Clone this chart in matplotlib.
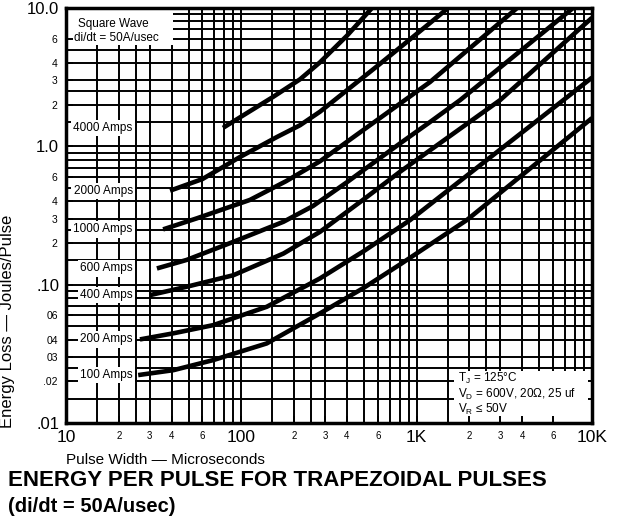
import matplotlib
matplotlib.use("Agg")
import matplotlib.pyplot as plt
from matplotlib.patches import Rectangle
from matplotlib.ticker import FixedLocator, FixedFormatter

plt.rcParams['font.family'] = ['Liberation Sans', 'DejaVu Sans']

# curves: pulse width (usec) vs energy (J/pulse)
labels = ["4000 Amps", "2000 Amps", "1000 Amps", "600 Amps", "400 Amps", "200 Amps", "100 Amps"]

x_4000 = [78.6, 152, 216, 281, 400, 556]
y_4000 = [1.36, 2.28, 3.05, 4.05, 6.3, 10.0]
x_2000 = [39.2, 60, 98.7, 160, 216, 281, 600, 1193, 1511]
y_2000 = [0.478, 0.58, 0.84, 1.17, 1.42, 1.78, 3.83, 7.8, 10.0]
x_1000 = [35.8, 55.9, 112, 180, 281, 450, 1193, 3740]
y_1000 = [0.251, 0.302, 0.41, 0.56, 0.78, 1.2, 2.92, 10.0]
x_600 = [33.0, 48.8, 90, 174, 256, 400, 804, 1193, 1770, 7800]
y_600 = [0.131, 0.151, 0.204, 0.285, 0.37, 0.55, 1.05, 1.5, 2.16, 10.0]
x_400 = [30.2, 48.8, 90, 174, 281, 494, 804, 2993, 10000]
y_400 = [0.0841, 0.0966, 0.117, 0.168, 0.241, 0.41, 0.655, 2.16, 8.5]
x_200 = [26.4, 41, 69.2, 139.6, 281, 500, 917, 6870, 10000]
y_200 = [0.0402, 0.0445, 0.051, 0.0692, 0.111, 0.175, 0.293, 2.16, 3.14]
x_100 = [25.8, 41, 69.2, 139.6, 281, 500, 804, 1931, 10000]
y_100 = [0.0222, 0.0241, 0.0285, 0.0376, 0.062, 0.095, 0.14, 0.293, 1.6]

curves_x = [x_4000, x_2000, x_1000, x_600, x_400, x_200, x_100]
curves_y = [y_4000, y_2000, y_1000, y_600, y_400, y_200, y_100]

# graph paper lines (multipliers inside each decade)
grid_mult = [1, 1.5, 2, 2.5, 3, 4, 5, 6, 7, 8, 9]
x_decades = [10, 100, 1000]
y_decades = [0.01, 0.1, 1]

x_major = [10, 100, 1000, 10000]
x_major_labels = ["10", "100", "1K", "10K"]
x_minor_mult = [2, 3, 4, 6]
x_minor_labels = ["2", "3", "4", "6"]

y_major = [0.01, 0.1, 1, 10]
y_major_labels = [".01", ".10", "1.0", "10.0"]
y_minor = [0.02, 0.03, 0.04, 0.06, 0.2, 0.3, 0.4, 0.6, 2, 3, 4, 6]
y_minor_labels = [".02", "03", "04", "06", "2", "3", "4", "6", "2", "3", "4", "6"]

fig = plt.figure(figsize=(6.21, 5.18), dpi=100)
ax = fig.add_axes([66 / 621, 1 - 423 / 518, 526 / 621, 415 / 518])
ax.set_xscale('log')
ax.set_yscale('log')
ax.set_xlim(10, 10000)
ax.set_ylim(0.01, 10)

# grid drawn by hand so the white boxes can sit between grid and ticks
for d in x_decades:
    for m in grid_mult:
        ax.axvline(d * m, color='black', lw=1.4, zorder=1)
for d in y_decades:
    for m in grid_mult:
        ax.axhline(d * m, color='black', lw=1.4, zorder=1)

for cx, cy in zip(curves_x, curves_y):
    ax.plot(cx, cy, color='black', lw=3.3, solid_capstyle='butt',
            solid_joinstyle='round', zorder=4)

for lab, cx, cy in zip(labels, curves_x, curves_y):
    ax.text(24, cy[0], lab, ha='right', va='center', fontsize=8.5, zorder=5,
            bbox=dict(facecolor='white', edgecolor='none', pad=1.5))

# white boxes
ax.add_patch(Rectangle((0, 0.912), 0.203, 0.088, transform=ax.transAxes,
                       facecolor='white', edgecolor='none', zorder=2))
ax.text(0.022, 0.962, "Square Wave", transform=ax.transAxes, fontsize=8.5,
        va='center', ha='left', zorder=5)
ax.text(0.016, 0.928, "di/dt = 50A/usec", transform=ax.transAxes, fontsize=8.5,
        va='center', ha='left', zorder=5)

ax.add_patch(Rectangle((0.738, 0), 0.254, 0.125, transform=ax.transAxes,
                       facecolor='white', edgecolor='none', zorder=2))
ax.text(0.745, 0.107, "T$_\\mathregular{J}$ = 125°C", transform=ax.transAxes,
        fontsize=8.5, va='center', ha='left', zorder=5)
ax.text(0.745, 0.070, "V$_\\mathregular{D}$ = 600V, 20Ω, 25 uf", transform=ax.transAxes,
        fontsize=8.5, va='center', ha='left', zorder=5)
ax.text(0.745, 0.033, "V$_\\mathregular{R}$ ≤ 50V", transform=ax.transAxes,
        fontsize=8.5, va='center', ha='left', zorder=5)

# ticks
x_minor = [d * m for d in x_decades for m in x_minor_mult]
x_minor_text = [t for d in x_decades for t in x_minor_labels]
ax.xaxis.set_major_locator(FixedLocator(x_major))
ax.xaxis.set_major_formatter(FixedFormatter(x_major_labels))
ax.xaxis.set_minor_locator(FixedLocator(x_minor))
ax.xaxis.set_minor_formatter(FixedFormatter(x_minor_text))
ax.yaxis.set_major_locator(FixedLocator(y_major))
ax.yaxis.set_major_formatter(FixedFormatter(y_major_labels))
ax.yaxis.set_minor_locator(FixedLocator(y_minor))
ax.yaxis.set_minor_formatter(FixedFormatter(y_minor_labels))

ax.set_axisbelow(False)
ax.tick_params(which='both', direction='in', length=5, width=1.4, color='black')
ax.tick_params(axis='x', which='major', labelsize=12.5, pad=5)
ax.tick_params(axis='x', which='minor', labelsize=7, pad=6)
ax.tick_params(axis='y', which='major', labelsize=12, pad=5)
ax.tick_params(axis='y', which='minor', labelsize=7.5, pad=6)
for s in ax.spines.values():
    s.set_linewidth(2.5)
    s.set_zorder(6)

ax.set_ylabel("Energy Loss — Joules/Pulse", fontsize=12)
ax.yaxis.set_label_coords(-0.097, 0.245)
ax.set_xlabel("Pulse Width — Microseconds", fontsize=11, ha='left', va='center')
ax.xaxis.set_label_coords(0.0, -0.089)

fig.text(8 / 621, 1 - 480 / 518, "ENERGY PER PULSE FOR TRAPEZOIDAL PULSES",
         fontsize=16, fontweight='bold', ha='left', va='center')
fig.text(8 / 621, 1 - 506 / 518, "(di/dt = 50A/usec)",
         fontsize=14.5, fontweight='bold', ha='left', va='center')

fig.savefig('out.png', dpi=100)
